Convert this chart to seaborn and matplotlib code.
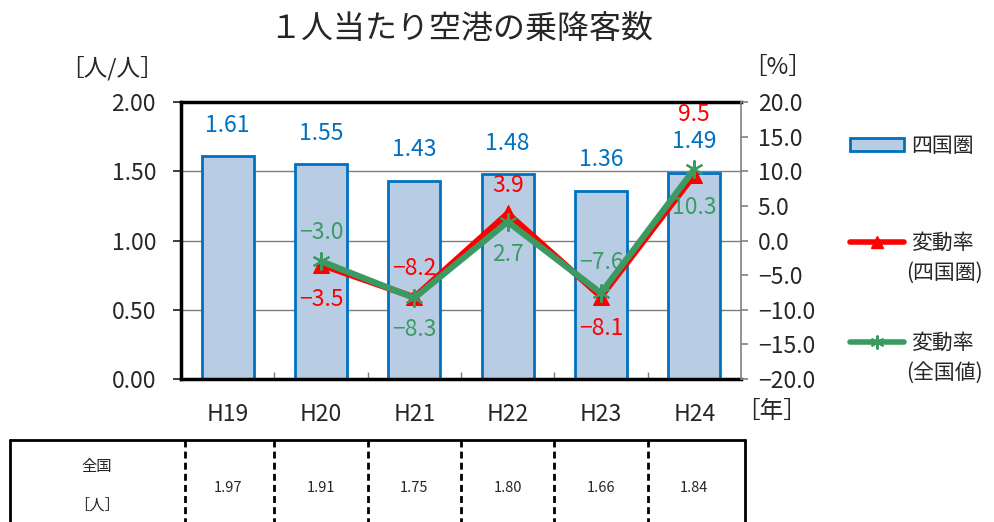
import matplotlib
matplotlib.use('Agg')
import matplotlib.pyplot as plt
import matplotlib.transforms as mtransforms
import seaborn as sns
import pandas as pd
import numpy as np
from matplotlib.lines import Line2D
from matplotlib.patches import Patch

# ---------------- data ----------------
years = ['H19', 'H20', 'H21', 'H22', 'H23', 'H24']
shikoku_per_capita = [1.61, 1.55, 1.43, 1.48, 1.36, 1.49]
rate_years = ['H20', 'H21', 'H22', 'H23', 'H24']
rate_shikoku = [-3.5, -8.2, 3.9, -8.1, 9.5]
rate_national = [-3.0, -8.3, 2.7, -7.6, 10.3]
national_per_capita = [1.97, 1.91, 1.75, 1.80, 1.66, 1.84]
left_ticks = [0.0, 0.5, 1.0, 1.5, 2.0]
right_ticks = [-20, -15, -10, -5, 0, 5, 10, 15, 20]

title = '１人当たり空港の乗降客数'
bar_label = '四国圏'
red_label = ('変動率', '(四国圏)')
green_label = ('変動率', '(全国値)')
table_head = ('全国', '［人］')

# label placement (pixels offset from point)
red_offsets = [-35, 29, 28, -32, 60]
green_offsets = [29, -32, -33, 31, -38]

BLUE = '#0070C0'
BAR_FACE = '#B8CCE4'
RED = '#FF0000'
GREEN = '#3A9A62'
GREEN_TXT = '#3C9A64'

sns.set_theme(style='white')
plt.rcParams['font.family'] = ['Noto Sans CJK JP', 'DejaVu Sans']

FS = 16.5

W, H = 994, 522
fig = plt.figure(figsize=(W / 100, H / 100), dpi=100)
ax = fig.add_axes([181 / W, 1 - 379 / H, (741 - 181) / W, (379 - 102) / H])

df = pd.DataFrame({'year': years, 'value': shikoku_per_capita})
sns.barplot(data=df, x='year', y='value', order=years, color=BAR_FACE,
            edgecolor=BLUE, linewidth=2, width=0.56, saturation=1, ax=ax,
            zorder=2)
ax.set_xlim(-0.5, 5.5)
ax.set_ylim(0, 2.0)
ax.set_axisbelow(True)
ax.yaxis.grid(True, color='#7f7f7f', lw=1)
ax.xaxis.grid(False)
ax.set_yticks(left_ticks)
ax.set_yticklabels([f'{t:.2f}' for t in left_ticks])
ax.tick_params(axis='y', left=False, pad=12, labelsize=FS)
ax.tick_params(axis='x', which='major', bottom=False, pad=11, labelsize=FS)
ax.set_xticks(np.arange(0.5, 5.0, 1.0), minor=True)
ax.tick_params(axis='x', which='minor', bottom=True, direction='in', length=5,
               width=1, color='#808080')
ax.set_xlabel('')
ax.set_ylabel('')
for s in ['top', 'left', 'bottom']:
    ax.spines[s].set_color('black')
    ax.spines[s].set_linewidth(2.5)
ax.spines['right'].set_visible(False)

for p, v in zip(ax.patches, shikoku_per_capita):
    ax.annotate(f'{v:.2f}', (p.get_x() + p.get_width() / 2, v),
                xytext=(0, 31), textcoords='offset pixels', ha='center',
                va='center', color=BLUE, fontsize=FS)

# ---------------- rate lines ----------------
ax2 = ax.twinx()
pos = [years.index(y) for y in rate_years]
sns.lineplot(x=pos, y=rate_shikoku, color=RED, lw=4.5, marker='^',
             markersize=12, markeredgecolor=RED, ax=ax2, zorder=3)
sns.lineplot(x=pos, y=rate_national, color=GREEN, lw=4.5, marker=(6, 2, 0),
             markersize=13, markeredgewidth=1.5, markeredgecolor=GREEN,
             ax=ax2, zorder=4)
ax2.set_ylim(-20, 20)
ax2.set_xlim(-0.5, 5.5)
ax2.set_yticks(right_ticks)
ax2.set_yticklabels([f'{t:.1f}'.replace('-', '−') for t in right_ticks])
ax2.tick_params(axis='y', right=True, direction='out', length=5, width=1.2,
                color='#808080', labelsize=FS, pad=7)
ax2.set_ylabel('')
ax2.grid(False)
for s in ['top', 'left', 'bottom']:
    ax2.spines[s].set_visible(False)
ax2.spines['right'].set_color('#808080')
ax2.spines['right'].set_linewidth(1.2)

for x, v, off in zip(pos, rate_shikoku, red_offsets):
    ax2.annotate(f'{v:.1f}'.replace('-', '−'), (x, v), xytext=(0, off),
                 textcoords='offset pixels', ha='center', va='center',
                 color=RED, fontsize=FS, zorder=6)
for x, v, off in zip(pos, rate_national, green_offsets):
    ax2.annotate(f'{v:.1f}'.replace('-', '−'), (x, v), xytext=(0, off),
                 textcoords='offset pixels', ha='center', va='center',
                 color=GREEN_TXT, fontsize=FS, zorder=6)

# ---------------- texts ----------------
fig.text(461 / W, 1 - 29 / H, title, ha='center', va='center', fontsize=23)
fig.text(112 / W, 1 - 68 / H, '［人/人］', ha='center', va='center', fontsize=17)
fig.text(778 / W, 1 - 68 / H, '［%］', ha='center', va='center', fontsize=17)
fig.text(772 / W, 1 - 412 / H, '［年］', ha='center', va='center', fontsize=17)

# ---------------- legends ----------------
leg_kw = dict(loc='center left', frameon=False, fontsize=15, handlelength=2.6,
              handletextpad=0.35, borderpad=0, borderaxespad=0)
h1 = Patch(facecolor=BAR_FACE, edgecolor=BLUE, lw=2)
fig.legend(handles=[h1], labels=[bar_label], handleheight=0.6,
           bbox_to_anchor=(850 / W, 1 - 146 / H), **leg_kw)
h2 = Line2D([], [], color=RED, lw=4, marker='^', markersize=9)
fig.legend(handles=[h2], labels=[red_label[0]],
           bbox_to_anchor=(850 / W, 1 - 243 / H), **leg_kw)
h3 = Line2D([], [], color=GREEN, lw=4, marker=(6, 2, 0), markersize=10,
            markeredgewidth=1.5)
fig.legend(handles=[h3], labels=[green_label[0]],
           bbox_to_anchor=(850 / W, 1 - 343 / H), **leg_kw)
fig.text(906 / W, 1 - 273 / H, red_label[1], ha='left', va='center', fontsize=15)
fig.text(906 / W, 1 - 373 / H, green_label[1], ha='left', va='center', fontsize=15)

# ---------------- table ----------------
blend = mtransforms.blended_transform_factory(ax.transData, fig.transFigure)
ytop = 1 - 440 / H
fig.add_artist(Line2D([10 / W, 745 / W], [ytop, ytop], color='black', lw=2,
                      transform=fig.transFigure))
fig.add_artist(Line2D([10 / W, 10 / W], [ytop, -0.05], color='black', lw=2,
                      transform=fig.transFigure))
fig.add_artist(Line2D([745 / W, 745 / W], [ytop, -0.05], color='black', lw=2,
                      transform=fig.transFigure))
for i in range(len(years)):
    xb = i - 0.5 + (0.04 if i == 0 else 0)
    fig.add_artist(Line2D([xb, xb], [ytop, -0.05], color='black', lw=2,
                          linestyle=(0, (2.5, 1.5)), transform=blend))
for i, v in enumerate(national_per_capita):
    fig.text(i, 1 - 488 / H, f'{v:.2f}', transform=blend, ha='center',
             va='center', fontsize=10.5)
fig.text(97 / W, 1 - 466 / H, table_head[0], ha='center', va='center', fontsize=11)
fig.text(97 / W, 1 - 505 / H, table_head[1], ha='center', va='center', fontsize=11)

fig.savefig('out.png', dpi=100)
